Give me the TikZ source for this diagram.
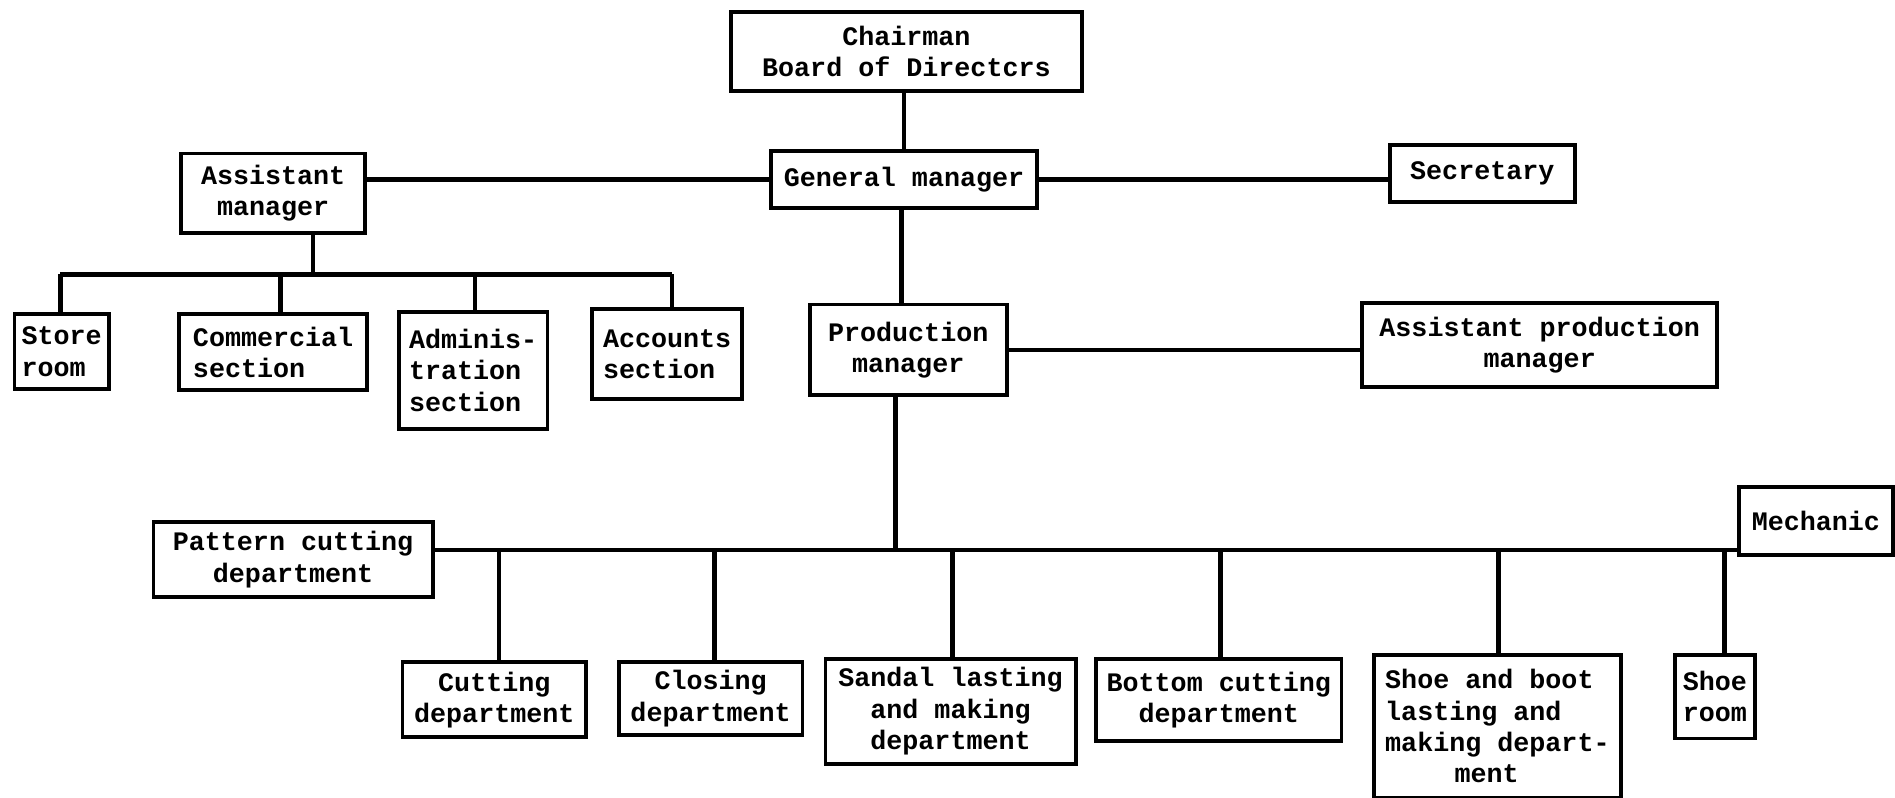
\documentclass[tikz,border=0pt]{standalone}
\usepackage{fontspec}
\setmonofont{Liberation Mono}
\begin{document}
\begin{tikzpicture}[x=0.12086mm,y=-0.12086mm,
  box/.style={draw,line width=1.1pt,inner sep=0pt,font=\ttfamily\bfseries\fontsize{7.6}{8.9}\selectfont},
  conn/.style={line width=1.3pt}]
\useasboundingbox (0,0) rectangle (1568,660);
\newcommand\bx[7][center]{\node[box,align=#1,minimum width={(#5-#3)*0.12086mm},minimum height={(#6-#4)*0.12086mm}] (#2) at ({(#3+#5)/2},{(#4+#6)/2}) {#7};}
\bx{chair}{605}{10}{895}{75}{Chairman\\Board of Directcrs}
\bx{gm}{638}{125}{858}{172}{General manager}
\bx{sec}{1150}{120}{1303}{167}{Secretary}
\bx{am}{150}{127}{302}{193}{Assistant\\manager}
\bx[left]{store}{12}{260}{90}{322}{Store\\room}
\bx[left]{comm}{148}{260}{304}{323}{Commercial\\section}
\bx[left]{admin}{330}{258}{453}{355}{Adminis-\\tration\\section}
\bx[left]{acc}{490}{256}{614}{330}{Accounts\\section}
\bx{pm}{670}{252}{833}{327}{Production\\manager}
\bx{apm}{1127}{251}{1421}{320}{Assistant production\\manager}
\bx{pat}{127}{432}{358}{494}{Pattern cutting\\department}
\bx{mech}{1439}{403}{1566}{459}{Mechanic}
\bx{cut}{333}{548}{485}{610}{Cutting\\department}
\bx{clo}{512}{548}{664}{608}{Closing\\department}
\bx{san}{683}{545}{890}{632}{Sandal lasting\\and making\\department}
\bx{bot}{907}{545}{1110}{613}{Bottom cutting\\department}
\bx[left]{shoe}{1137}{542}{1341}{660}{Shoe and boot\\lasting and\\making depart-\\\hspace*{2.6em}ment}
\bx{sr}{1386}{542}{1452}{611}{Shoe\\room}
% top connectors
\coordinate (cg) at (748,100);
\draw[conn] (cg |- chair.south) -- (cg |- gm.north);
\draw[conn] (am.east |- gm.west) -- (gm.west);
\draw[conn] (gm.east) -- (sec.west |- gm.east);
\coordinate (gmd) at (746,200);
\draw[conn] (gmd |- gm.south) -- (gmd |- pm.north);
% assistant manager bus
\coordinate (ab) at (259,227);
\coordinate (abL) at (50,227);
\coordinate (abR) at (556,227);
\draw[conn] (ab |- am.south) -- (ab);
\draw[conn] (abL) -- (abR);
\draw[conn] (abL) -- (abL |- store.north);
\draw[conn] (232,227) coordinate (c1) -- (c1 |- comm.north);
\draw[conn] (393,227) coordinate (c2) -- (c2 |- admin.north);
\draw[conn] (abR) -- (abR |- acc.north);
% production
\draw[conn] (pm.east) -- (apm.west |- pm.east);
\coordinate (pb) at (741,455);
\draw[conn] (pb |- pm.south) -- (pb);
\draw[conn] (pat.east |- pb) -- (mech.west |- pb);
\foreach \x/\n in {413/cut,591/clo,788/san,1010/bot,1240/shoe,1427/sr}{
  \draw[conn] (\x,455) coordinate (d) -- (d |- \n.north);
}
\end{tikzpicture}
\end{document}
